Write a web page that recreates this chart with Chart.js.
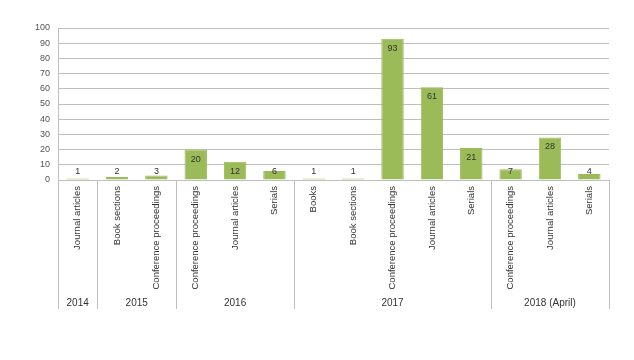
<!DOCTYPE html>
<html>
<head>
<meta charset="utf-8">
<script src="https://cdn.jsdelivr.net/npm/chart.js@4/dist/chart.umd.min.js"></script>
<style>
  body { margin: 0; background: #fff; }
  canvas { display: block; }
</style>
</head>
<body>
<canvas id="pubChart" width="634" height="360"></canvas>
<script>
const types = ["Journal articles", "Book sections", "Conference proceedings",
    "Conference proceedings", "Journal articles", "Serials",
    "Books", "Book sections", "Conference proceedings", "Journal articles", "Serials",
    "Conference proceedings", "Journal articles", "Serials"];
const counts = [1, 2, 3, 20, 12, 6, 1, 1, 93, 61, 21, 7, 28, 4];
const years = ["2014", "2015", "2016", "2017", "2018 (April)"];
const yearSizes = [1, 2, 3, 5, 3];
const yTicks = [0, 10, 20, 30, 40, 50, 60, 70, 80, 90, 100];

const FONT = "'Liberation Sans', Arial, sans-serif";
const lineColor = "#bfbfbf";

// value labels: inside the top of the bar, pushed up when the bar is too short
const valueLabels = {
    id: "valueLabels",
    afterDatasetsDraw(chart) {
        const ctx = chart.ctx;
        const meta = chart.getDatasetMeta(0);
        ctx.save();
        ctx.font = "9px " + FONT;
        ctx.fillStyle = "#333";
        ctx.textAlign = "center";
        ctx.textBaseline = "middle";
        meta.data.forEach((bar, i) => {
            const y = Math.min(bar.y + 9.5, bar.base - 8);
            ctx.fillText(String(counts[i]), bar.x, y);
        });
        ctx.restore();
    }
};

// year row and group separators under the category labels
const yearGroups = {
    id: "yearGroups",
    afterDraw(chart) {
        const ctx = chart.ctx;
        const x = chart.scales.x;
        const top = chart.chartArea.bottom;
        const bottom = top + 129;
        const step = (x.right - x.left) / types.length;
        ctx.save();
        ctx.strokeStyle = lineColor;
        ctx.lineWidth = 1;
        ctx.font = "10px " + FONT;
        ctx.fillStyle = "#333";
        ctx.textAlign = "center";
        ctx.textBaseline = "middle";
        let start = 0;
        const edges = [x.left];
        yearSizes.forEach((n, g) => {
            const end = start + n;
            const a = x.getPixelForValue(start) - step / 2;
            const b = x.getPixelForValue(end - 1) + step / 2;
            edges.push(b);
            ctx.fillText(years[g], (a + b) / 2, top + 123);
            start = end;
        });
        edges.forEach(px => {
            const p = Math.round(px) + 0.5;
            ctx.beginPath();
            ctx.moveTo(p, top);
            ctx.lineTo(p, bottom);
            ctx.stroke();
        });
        ctx.restore();
    }
};

new Chart(document.getElementById("pubChart").getContext("2d"), {
    type: "bar",
    data: {
        labels: types,
        datasets: [{
            data: counts,
            backgroundColor: "#9bbb59",
            borderColor: "#9bbb59",
            borderWidth: 1,
            barPercentage: 0.57,
            categoryPercentage: 1
        }]
    },
    options: {
        responsive: false,
        animation: false,
        layout: { padding: { top: 28, right: 25, bottom: 20, left: 0 } },
        plugins: { legend: { display: false }, tooltip: { enabled: false } },
        scales: {
            x: {
                grid: { display: false, drawTicks: false },
                border: { color: lineColor },
                ticks: {
                    minRotation: 90, maxRotation: 90, autoSkip: false,
                    padding: 6, color: "#333",
                    font: { family: FONT, size: 9.5 }
                },
                afterFit(scale) { scale.height = 160; }
            },
            y: {
                min: 0, max: 100,
                afterBuildTicks(scale) { scale.ticks = yTicks.map(v => ({ value: v })); },
                grid: { color: lineColor, drawTicks: false },
                border: { color: lineColor },
                ticks: { padding: 8, color: "#555", font: { family: FONT, size: 9 } },
                afterFit(scale) { scale.width = 58; }
            }
        }
    },
    plugins: [valueLabels, yearGroups]
});
</script>
</body>
</html>
